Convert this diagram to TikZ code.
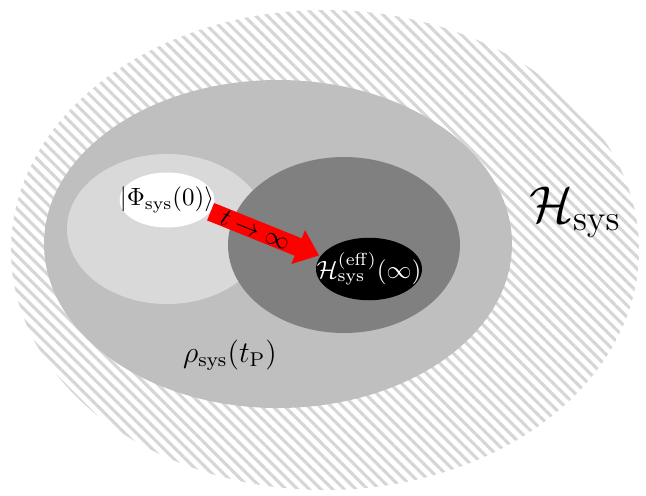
\documentclass[tikz,border=0pt]{standalone}
\usetikzlibrary{shapes.geometric,patterns.meta,arrows.meta}
\begin{document}
\begin{tikzpicture}[x=0.4pt,y=-0.4pt,
  statenode/.style={ellipse,inner xsep=-8pt,inner ysep=0pt,draw=none},
  evol/.style={draw=red,line width=7.5pt,-{Triangle[length=9pt,width=14pt]},shorten >=0.5pt}]
\useasboundingbox (0,0) rectangle (646,495);
% outer Hilbert space (hatched)
\fill[pattern={Lines[angle=-45,distance=3.3pt,line width=1.25pt]},pattern color=gray!32] (325,250) ellipse [x radius=314,y radius=240];
% rho_sys(t_P)
\fill[gray!50] (278,244) ellipse [x radius=234,y radius=164];
% light region
\fill[gray!30] (167,229) ellipse [x radius=100,y radius=75];
% dark region
\fill[gray] (344,245) ellipse [x radius=116,y radius=88];
\node[statenode,fill=white,minimum width=38pt,minimum height=22pt] (phi) at (167,200) {$|\Phi_{\mathrm{sys}}(0)\rangle$};
\node[statenode,fill=black,text=white,minimum width=42.4pt,minimum height=25pt] (heff) at (369,269) {$\mathcal{H}^{(\mathrm{eff})}_{\mathrm{sys}}(\infty)$};
\node (hsys) at (575,212) {\huge$\mathcal{H}_{\mathrm{sys}}$};
\node (rho) at (230,355) {\large$\rho_{\mathrm{sys}}(t_{\mathrm{P}})$};
\draw[evol] (phi.-15) -- (heff.165) node[pos=0.41,sloped,text=black,inner sep=0pt] (lbl) {$t\to\infty$};
\end{tikzpicture}
\end{document}
